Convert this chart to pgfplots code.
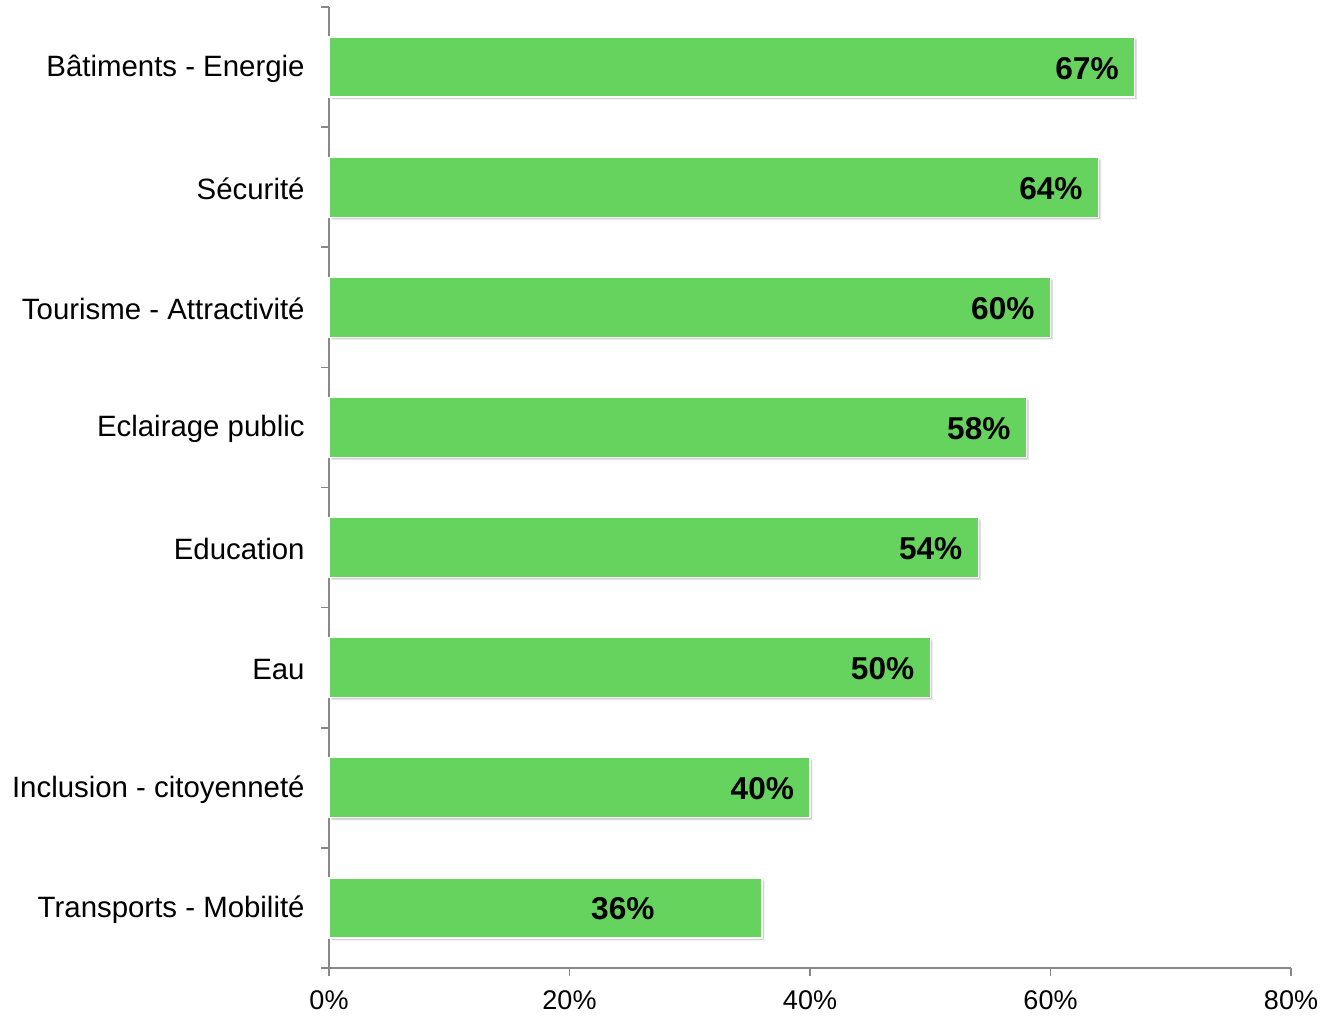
\documentclass[border=0pt]{standalone}
\usepackage{pgfplots}
\pgfplotsset{compat=1.18}
\usepackage{fontspec}
\setmainfont{Liberation Sans}
\usetikzlibrary{shadows}
\definecolor{barg}{RGB}{102,211,95}
\definecolor{axg}{RGB}{136,136,136}
\begin{document}
\begin{tikzpicture}
\begin{axis}[
  scale only axis,
  width=481pt, height=480.5pt,
  xmin=0, xmax=80, ymin=-0.5, ymax=7.5,
  axis x line*=bottom, axis y line*=left,
  axis line style={axg, line width=0.75pt, -},
  xtick={0,20,40,60,80},
  xticklabel={\pgfmathprintnumber{\tick}\%},
  /pgf/number format/assume math mode=true,
  x tick label style={font=\fontsize{13.5}{16}\selectfont, inner sep=0pt, yshift=-7pt},
  ytick={0,...,7},
  yticklabels={Transports - Mobilité, Inclusion - citoyenneté, Eau, Education, Eclairage public, Tourisme - Attractivité, Sécurité, Bâtiments - Energie},
  y tick label style={font=\fontsize{14.7}{17}\selectfont, inner sep=0pt, anchor=east, xshift=-8pt, yshift=-0.8pt},
  major y tick style={draw=none},
  minor ytick={-0.5,0.5,...,7.5},
  minor y tick style={axg, line width=0.75pt},
  minor tick length=4pt,
  major x tick style={axg, line width=0.75pt},
  major tick length=4pt,
  tick align=outside,
  tick pos=left,
  clip=false,
]
\addplot[xbar, bar width=30pt, fill=barg, draw=white, line width=0.6pt,
  drop shadow={shadow xshift=1.2pt, shadow yshift=-1.2pt, opacity=0.35}]
  coordinates {(36,0) (40,1) (50,2) (54,3) (58,4) (60,5) (64,6) (67,7)};
\addplot[only marks, mark=none, point meta=explicit symbolic,
  nodes near coords,
  nodes near coords style={anchor=east, inner sep=0pt, font=\fontsize{15.8}{18}\selectfont\bfseries, text=black, yshift=-0.6pt}]
  coordinates {(27.1,0) [36\%] (38.7,1) [40\%] (48.7,2) [50\%] (52.7,3) [54\%] (56.7,4) [58\%] (58.7,5) [60\%] (62.7,6) [64\%] (65.7,7) [67\%]};
\end{axis}
\pgfresetboundingbox
\path (current axis.south west) ++(-164.5pt,-23.5pt) coordinate (bbA);
\path (current axis.north east) ++(15.5pt,3.5pt) coordinate (bbB);
\path[use as bounding box] (bbA) rectangle (bbB);
\end{tikzpicture}
\end{document}
